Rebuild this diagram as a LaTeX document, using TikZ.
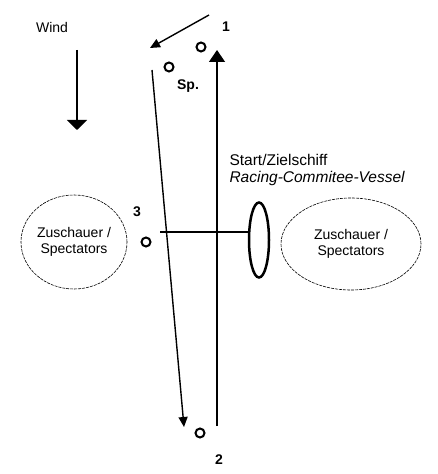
\documentclass[tikz,border=0pt]{standalone}
\usepackage{fontspec}
\setmainfont{Liberation Sans}
\usetikzlibrary{arrows.meta,shapes.geometric}

\tikzset{
	buoy/.style = {circle, draw, line width=2bp, inner sep=0pt, minimum size=9bp},
	leg/.style = {line width=1.4bp, -{Triangle[length=10bp, width=9bp]}},
	crowd/.style = {ellipse, draw, dash pattern=on 3bp off 1bp, line width=0.6bp, align=center},
	marklabel/.style = {font=\fontsize{14bp}{16bp}\selectfont\bfseries}
}

\begin{document}
\begin{tikzpicture}[x=1bp, y=-1bp, font=\fontsize{14bp}{16bp}\selectfont]
	\useasboundingbox (0,0) rectangle (438,474);
	
	% wind
	\node (wind) at (52,28) {Wind};
	\coordinate (w1) at (77,50);
	\coordinate (w2) at (77,130);
	\draw[line width=1.4bp, -{Triangle[length=10bp, width=20bp]}] (w1) -- (w2);
	
	% buoys
	\node[buoy] (m1) at (201,47) {};
	\node[buoy] (sp) at (169,67) {};
	\node[buoy] (m3) at (146,242) {};
	\node[buoy] (m2) at (200,433) {};
	
	\node[marklabel] (l1) at (226,27) {1};
	\node[marklabel] (lsp) at (188,86) {Sp.};
	\node[marklabel] (l3) at (137,212) {3};
	\node[marklabel] (l2) at (219,460) {2};
	
	% course
	\coordinate (a1) at (209,15);
	\coordinate (a2) at (150,48);
	\draw[leg] (a1) -- (a2);
	
	\coordinate (b1) at (152,70);
	\coordinate (b2) at (184,427);
	\draw[leg] (b1) -- (b2);
	
	\coordinate (c1) at (217,426);
	\coordinate (c2) at (217,50);
	\draw[line width=1.4bp, -{Triangle[length=12bp, width=16bp]}] (c1) -- (c2);
	
	% start line and committee vessel
	\node[ellipse, draw, line width=2.5bp, minimum width=20bp, minimum height=75bp, inner sep=0pt] (vessel) at (259,240) {};
	\coordinate (s1) at (160,232);
	\draw[line width=1.2bp] (s1) -- (s1 -| vessel.west);
	
	\node[anchor=west, font=\fontsize{15.5bp}{18bp}\selectfont] (ship) at (226,160) {Start/Zielschiff};
	\node[anchor=west, font=\fontsize{15.5bp}{18bp}\selectfont\itshape] (shipen) at (226,178) {Racing-Commitee-Vessel};
	
	% spectators
	\node[crowd, minimum width=106bp, minimum height=94bp, inner sep=0pt] (crowdl) at (74,242) {Zuschauer /\\Spectators};
	\node[crowd, minimum width=140bp, minimum height=92bp, inner sep=0pt] (crowdr) at (351,244) {Zuschauer /\\Spectators};
\end{tikzpicture}
\end{document}
